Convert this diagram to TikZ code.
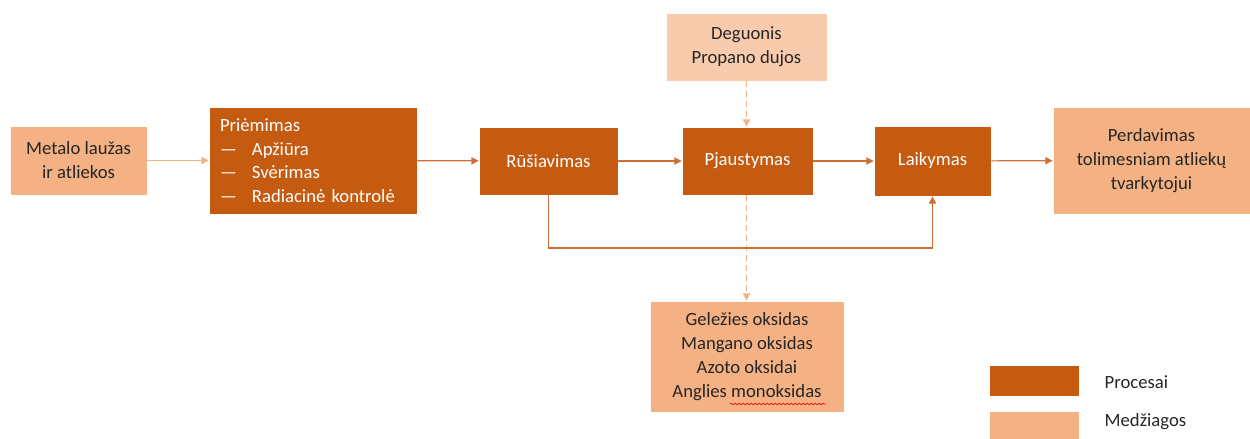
\documentclass[tikz,border=0pt]{standalone}
\usepackage{fontspec}
\setmainfont{Carlito}
\usetikzlibrary{arrows.meta,positioning,decorations.pathmorphing}

\definecolor{procesas}{HTML}{C55A11}
\definecolor{medziaga}{HTML}{F4B183}
\definecolor{dujos}{HTML}{F8CBAD}
\definecolor{linija}{HTML}{CF6E33}

\tikzset{
  blokas/.style={draw=white, line width=0.6pt, inner sep=0pt, align=center,
    font=\fontsize{14}{18}\selectfont},
  procesas/.style={blokas, fill=procesas, text=white},
  medziaga/.style={blokas, fill=medziaga, text=black!85},
  dujos/.style={blokas, fill=dujos, text=black!85},
  rodykle/.style={draw=linija, line width=0.9pt, -{Triangle[length=5.5pt,width=5.5pt]}},
  sviesi/.style={draw=medziaga, line width=0.9pt, -{Triangle[length=5.5pt,width=5.5pt]}},
  punktyras/.style={sviesi, dash pattern=on 4.5pt off 3pt},
}

\begin{document}
\begin{tikzpicture}[x=0.75pt, y=-0.75pt]
    \useasboundingbox (0,0) rectangle (1250,439);

    % Medziagos
    \node[medziaga, minimum width=102.75pt, minimum height=51.75pt] (metalas) at (78.5,160.5) {Metalo laužas\\ir atliekos};
    \node[dujos, minimum width=120.75pt, minimum height=51pt] (dujos) at (746.5,47) {Deguonis\\Propano dujos};
    \node[medziaga, minimum width=145.5pt, minimum height=83.25pt] (oksidai) at (747,356.5) {Geležies oksidas\\Mangano oksidas\\Azoto oksidai\\Anglies monoksidas};
    \node[medziaga, minimum width=147.75pt, minimum height=80.25pt] (perdavimas) at (1151.5,160.5) {Perdavimas\\tolimesniam atliekų\\tvarkytojui};

    % Procesai
    \node[procesas, minimum width=156pt, minimum height=80.25pt, text width=139.5pt, align=left,
      font=\fontsize{14}{17.6}\selectfont] (priemimas) at (313,160.5)
      {Priėmimas\\\makebox[24pt][l]{—}Apžiūra\\\makebox[24pt][l]{—}Svėrimas\\\makebox[24pt][l]{—}Radiacinė kontrolė};
    \node[procesas, minimum width=104.25pt, minimum height=51pt] (rusiavimas) at (548.5,161) {Rūšiavimas};
    \node[procesas, minimum width=98.25pt, minimum height=51pt] (pjaustymas) at (747.5,161) {Pjaustymas};
    \node[procesas, minimum width=87.75pt, minimum height=52.5pt] (laikymas) at (932.5,161) {Laikymas};

    % Rodykles
    \draw[sviesi] (metalas) -- (priemimas);
    \draw[rodykle] (priemimas) -- (rusiavimas);
    \draw[rodykle] (rusiavimas) -- (pjaustymas);
    \draw[rodykle] (pjaustymas) -- (laikymas);
    \draw[rodykle] (laikymas) -- (perdavimas);
    \draw[punktyras] (dujos.south) -- (dujos.south |- pjaustymas.north);
    \draw[punktyras] (pjaustymas.south -| dujos.south) -- (dujos.south |- oksidai.north);

    % Aplinkkelis
    \coordinate (apacia) at (740,248);
    \draw[rodykle] (rusiavimas.south) |- (apacia) -| (laikymas.south);

    % Rasybos tikrinimas
    \draw[red, line width=0.5pt, decorate, decoration={snake, amplitude=0.6pt, segment length=3pt}]
      (730,404) -- (826,404);

    % Legenda
    \node[procesas, minimum width=67.5pt, minimum height=23.25pt] (leg1) at (1034,380.5) {};
    \node[medziaga, minimum width=67.5pt, minimum height=23.25pt] (leg2) at (1034,426.5) {};
    \node[anchor=west, font=\fontsize{14}{18}\selectfont, text=black!85] at (1100,382) {Procesai};
    \node[anchor=west, font=\fontsize{14}{18}\selectfont, text=black!85] at (1100,422) {Medžiagos};
\end{tikzpicture}
\end{document}
